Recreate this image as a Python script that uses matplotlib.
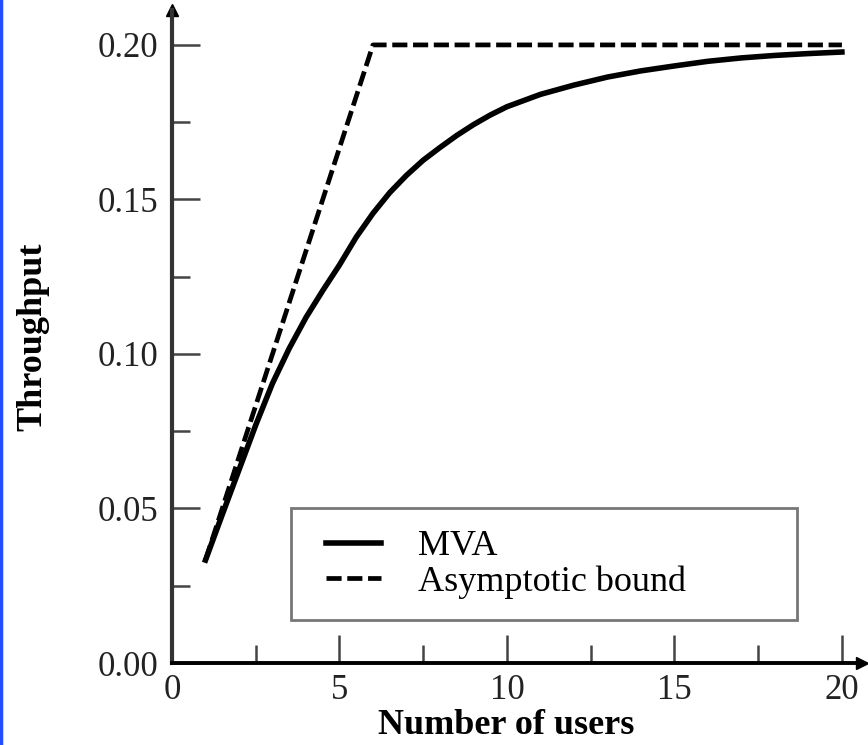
import matplotlib.pyplot as plt
from matplotlib.lines import Line2D
from matplotlib.patches import Rectangle

# data
users = [1, 1.5, 2, 2.5, 3, 3.5, 4, 4.5, 5, 5.5, 6, 6.5, 7, 7.5, 8, 8.5, 9, 9.5, 10,
         11, 12, 13, 14, 15, 16, 17, 18, 19, 20]
mva = [0.0333, 0.0480, 0.0625, 0.0770, 0.0905, 0.1018, 0.1118, 0.1205, 0.1288, 0.1378,
       0.1455, 0.1522, 0.1578, 0.1627, 0.1668, 0.1707, 0.1742, 0.1773, 0.1800,
       0.1840, 0.1870, 0.1896, 0.1916, 0.1932, 0.1947, 0.1958, 0.1966, 0.1972, 0.1977]
bound_x = [1, 6, 20]
bound_y = [0.0333, 0.2, 0.2]

plt.rcParams['font.family'] = ['Liberation Serif', 'DejaVu Serif']

fig = plt.figure(figsize=(8.68, 7.45), dpi=100)
ax = fig.add_axes([172 / 868, 82 / 745, 690 / 868, 653 / 745])

ax.plot(users, mva, color='black', lw=4, solid_joinstyle='round', label='MVA')
ax.plot(bound_x, bound_y, color='black', lw=3.4, dashes=(3.2, 1.2), label='Asymptotic bound')

ax.set_xlim(0, 20.6)
ax.set_ylim(0, 0.2113)
ax.set_xticks([0, 5, 10, 15, 20])
ax.set_xticks([2.5, 7.5, 12.5, 17.5], minor=True)
ax.set_yticks([0.0, 0.05, 0.10, 0.15, 0.20])
ax.set_yticks([0.025, 0.075, 0.125, 0.175], minor=True)
ax.set_yticklabels(['0.00', '0.05', '0.10', '0.15', '0.20'])

ax.tick_params(which='both', direction='in', colors='#444444', labelcolor='#222222',
               width=1.8, labelsize=25)
ax.tick_params(which='major', length=20)
ax.tick_params(which='minor', length=13)
ax.tick_params(axis='x', pad=8)
ax.tick_params(axis='y', pad=10)

for s in ['top', 'right']:
    ax.spines[s].set_visible(False)
ax.spines['left'].set_linewidth(3)
ax.spines['left'].set_color('#333333')
ax.spines['bottom'].set_linewidth(2.8)
ax.spines['bottom'].set_color('black')

# arrow heads on the axes
ax.plot(1, 0, '>', color='black', ms=9, transform=ax.transAxes, clip_on=False)
ax.plot(0, 1, '^', color='black', ms=8, transform=ax.transAxes, clip_on=False)

ax.set_xlabel('Number of users', fontsize=26, fontweight='bold')
ax.set_ylabel('Throughput', fontsize=26, fontweight='bold')
ax.xaxis.set_label_coords((506 - 172) / 690, -0.07)
ax.yaxis.set_label_coords(-0.177, 0.5)

# legend box drawn by hand, legend entries without frame on top
ax.add_patch(Rectangle((0.1725, 0.0658), 0.733, 0.1716, transform=ax.transAxes,
                       facecolor='white', edgecolor='#777777', lw=2, zorder=4))
leg = ax.legend(loc='upper left', bbox_to_anchor=((326 - 172) / 690, (663 - 530) / 653),
                borderaxespad=0, borderpad=0, fontsize=26, handlelength=1.52,
                handletextpad=1.03, labelspacing=0.06, frameon=False)
leg.set_zorder(5)

# blue edge on the left side of the picture
fig.add_artist(Line2D([0.0015, 0.0015], [0, 1], color='#1f4fff', lw=2.5))

fig.savefig('out.png', dpi=100)
